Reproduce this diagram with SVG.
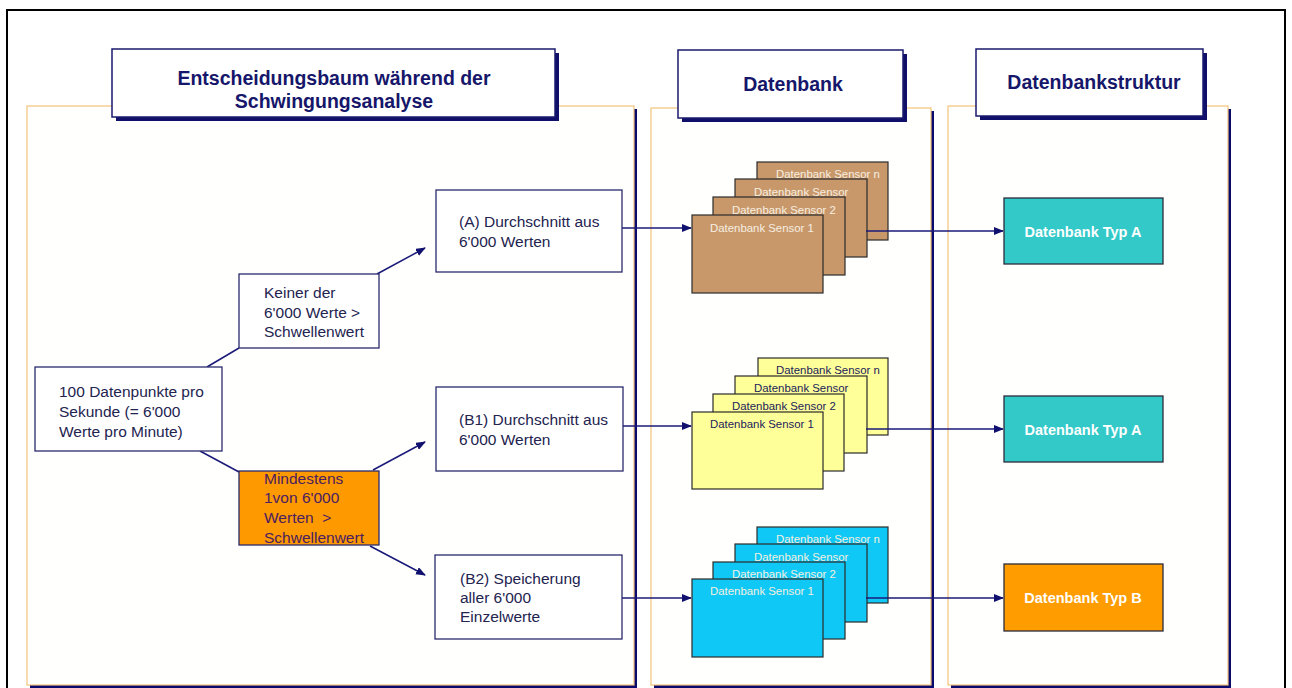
<svg xmlns="http://www.w3.org/2000/svg" width="1292" height="688" viewBox="0 0 1292 688">
<style>
.panel{fill:#fffffd;stroke:#f2c47a;stroke-width:1.2}
.pshadow{fill:#0a0a6e}
.tbox{fill:#ffffff;stroke:#1a1a6e;stroke-width:1.5}
.tshadow{fill:#10106a}
.ttext{font-family:"Liberation Sans",Arial,sans-serif;font-weight:bold;font-size:19.5px;fill:#16166a;text-anchor:middle}
.node{fill:#ffffff;stroke:#2a2a6e;stroke-width:1.3}
.ntext{font-family:"Liberation Sans",Arial,sans-serif;font-size:15.5px;fill:#23234f}
.db{stroke:#2b2b2b;stroke-width:1.2}
.brown{fill:#c8986b}
.yellow{fill:#ffff99}
.blue{fill:#0fc8f5}
.stext{font-family:"Liberation Sans",Arial,sans-serif;font-size:11.4px}
.lt{fill:#f6efe0}
.dk{fill:#1a1a5a}
.typ{stroke:#2b2b3b;stroke-width:1.3}
.typtext{font-family:"Liberation Sans",Arial,sans-serif;font-size:14.5px;font-weight:bold;fill:#ffffff;text-anchor:middle}
.conn{stroke:#1a1a7a;stroke-width:1.5;fill:none}
</style>
<defs>
<marker id="arr" markerWidth="10" markerHeight="8" refX="9" refY="4" orient="auto" markerUnits="userSpaceOnUse">
<path d="M0,0 L10,4 L0,8 Z" fill="#10106e"/>
</marker>
</defs>
<rect x="0" y="0" width="1292" height="688" fill="#ffffff"/>
<rect x="7" y="10" width="1278" height="700" fill="none" stroke="#000000" stroke-width="2"/>

<g id="panel-entscheidung">
<rect class="pshadow" x="30" y="109" width="607" height="579"/>
<rect class="panel" x="27" y="106" width="607" height="579"/>
</g>
<g id="panel-datenbank">
<rect class="pshadow" x="654" y="111" width="280" height="577"/>
<rect class="panel" x="651" y="108" width="280" height="577"/>
</g>
<g id="panel-struktur">
<rect class="pshadow" x="951" y="109" width="280" height="579"/>
<rect class="panel" x="948" y="106" width="280" height="579"/>
</g>

<g id="title-entscheidung">
<rect class="tshadow" x="116" y="53" width="443" height="68"/>
<rect class="tbox" x="112" y="49" width="443" height="68"/>
<text class="ttext" x="334" y="85">Entscheidungsbaum während der</text>
<text class="ttext" x="334" y="108">Schwingungsanalyse</text>
</g>
<g id="title-datenbank">
<rect class="tshadow" x="682" y="54" width="225" height="68"/>
<rect class="tbox" x="678" y="50" width="225" height="68"/>
<text class="ttext" x="793" y="91">Datenbank</text>
</g>
<g id="title-struktur">
<rect class="tshadow" x="980" y="53" width="227" height="67"/>
<rect class="tbox" x="976" y="49" width="227" height="67"/>
<text class="ttext" x="1094" y="89">Datenbankstruktur</text>
</g>

<g id="connectors">
<line class="conn" x1="207" y1="367" x2="239" y2="348"/>
<line class="conn" x1="377" y1="274" x2="425" y2="248" marker-end="url(#arr)"/>
<line class="conn" x1="200" y1="451" x2="239" y2="472"/>
<line class="conn" x1="373" y1="470" x2="425" y2="442" marker-end="url(#arr)"/>
<line class="conn" x1="370" y1="546" x2="425" y2="575" marker-end="url(#arr)"/>
<line class="conn" x1="622" y1="228" x2="691" y2="228" marker-end="url(#arr)"/>
<line class="conn" x1="623" y1="426" x2="691" y2="426" marker-end="url(#arr)"/>
<line class="conn" x1="622" y1="598" x2="691" y2="598" marker-end="url(#arr)"/>
</g>

<g id="node-start">
<rect class="node" x="35" y="367" width="187" height="84"/>
<text class="ntext" x="59" y="397">100 Datenpunkte pro</text>
<text class="ntext" x="59" y="417">Sekunde (= 6'000</text>
<text class="ntext" x="59" y="437">Werte pro Minute)</text>
</g>
<g id="node-keiner">
<rect class="node" x="239" y="274" width="140" height="74"/>
<text class="ntext" x="264" y="298">Keiner der</text>
<text class="ntext" x="264" y="318">6'000 Werte &gt;</text>
<text class="ntext" x="264" y="337">Schwellenwert</text>
</g>
<g id="node-mindestens">
<rect x="239" y="471" width="140" height="74" fill="#ff9900" stroke="#2a2a6e" stroke-width="1.3"/>
<text class="ntext" x="264" y="484" style="fill:#4a2060">Mindestens</text>
<text class="ntext" x="264" y="503" style="fill:#4a2060">1von 6'000</text>
<text class="ntext" x="264" y="523" style="fill:#4a2060" xml:space="preserve">Werten  &gt;</text>
<text class="ntext" x="264" y="543" style="fill:#4a2060">Schwellenwert</text>
</g>
<g id="node-a">
<rect class="node" x="436" y="190" width="186" height="82"/>
<text class="ntext" x="459" y="227">(A) Durchschnitt aus</text>
<text class="ntext" x="459" y="247">6'000 Werten</text>
</g>
<g id="node-b1">
<rect class="node" x="436" y="387" width="187" height="84"/>
<text class="ntext" x="459" y="425">(B1) Durchschnitt aus</text>
<text class="ntext" x="459" y="445">6'000 Werten</text>
</g>
<g id="node-b2">
<rect class="node" x="435" y="555" width="187" height="84"/>
<text class="ntext" x="460" y="584">(B2) Speicherung</text>
<text class="ntext" x="460" y="603">aller 6'000</text>
<text class="ntext" x="460" y="622">Einzelwerte</text>
</g>

<g id="db-stack-a">
<rect class="db brown" x="757" y="162" width="131" height="78"/>
<text class="stext lt" x="776" y="178">Datenbank Sensor n</text>
<rect class="db brown" x="735" y="179" width="132" height="78"/>
<text class="stext lt" x="754" y="196">Datenbank Sensor</text>
<rect class="db brown" x="713" y="197" width="132" height="78"/>
<text class="stext lt" x="732" y="214">Datenbank Sensor 2</text>
<rect class="db brown" x="692" y="215" width="131" height="78"/>
<text class="stext lt" x="710" y="232">Datenbank Sensor 1</text>
</g>
<g id="db-stack-b1">
<rect class="db yellow" x="758" y="358" width="130" height="77"/>
<text class="stext dk" x="776" y="374">Datenbank Sensor n</text>
<rect class="db yellow" x="735" y="376" width="132" height="77"/>
<text class="stext dk" x="754" y="392">Datenbank Sensor</text>
<rect class="db yellow" x="713" y="394" width="131" height="77"/>
<text class="stext dk" x="732" y="410">Datenbank Sensor 2</text>
<rect class="db yellow" x="692" y="412" width="131" height="77"/>
<text class="stext dk" x="710" y="428">Datenbank Sensor 1</text>
</g>
<g id="db-stack-b2">
<rect class="db blue" x="757" y="527" width="131" height="76"/>
<text class="stext lt" x="776" y="543">Datenbank Sensor n</text>
<rect class="db blue" x="735" y="544" width="132" height="78"/>
<text class="stext lt" x="754" y="561">Datenbank Sensor</text>
<rect class="db blue" x="713" y="562" width="132" height="77"/>
<text class="stext lt" x="732" y="578">Datenbank Sensor 2</text>
<rect class="db blue" x="692" y="579" width="131" height="78"/>
<text class="stext lt" x="710" y="595">Datenbank Sensor 1</text>
</g>

<g id="connectors-db">
<line class="conn" x1="866" y1="231" x2="1003" y2="231" marker-end="url(#arr)"/>
<line class="conn" x1="866" y1="429" x2="1003" y2="429" marker-end="url(#arr)"/>
<line class="conn" x1="866" y1="598" x2="1003" y2="598" marker-end="url(#arr)"/>
</g>

<g id="typ-a-1">
<rect class="typ" x="1004" y="198" width="159" height="66" fill="#33c9c9"/>
<text class="typtext" x="1083" y="237">Datenbank Typ A</text>
</g>
<g id="typ-a-2">
<rect class="typ" x="1004" y="396" width="159" height="66" fill="#33c9c9"/>
<text class="typtext" x="1083" y="435">Datenbank Typ A</text>
</g>
<g id="typ-b">
<rect class="typ" x="1004" y="564" width="159" height="67" fill="#ff9c00"/>
<text class="typtext" x="1083" y="603">Datenbank Typ B</text>
</g>
</svg>
